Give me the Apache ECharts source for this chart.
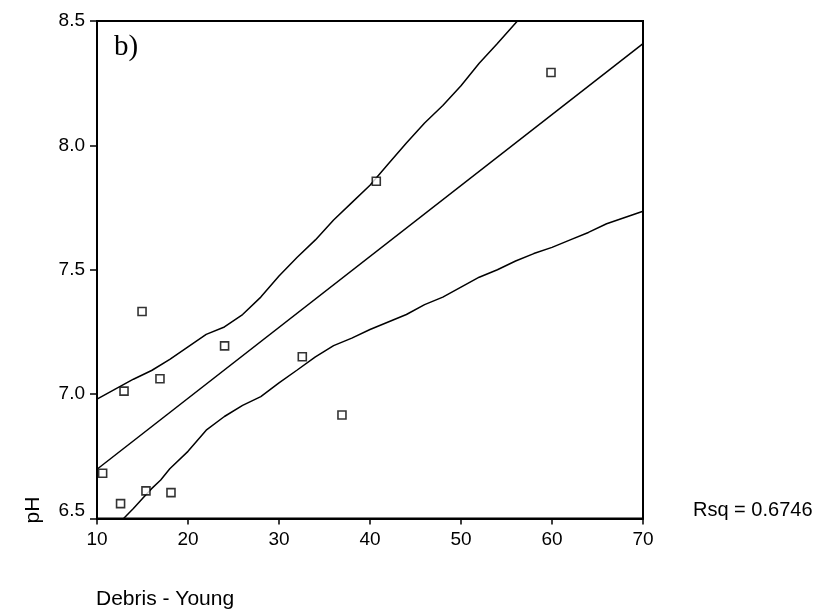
<!DOCTYPE html>
<html>
<head>
<meta charset="utf-8">
<script src="https://cdn.jsdelivr.net/npm/echarts@6/dist/echarts.min.js"></script>
<style>html,body{margin:0;padding:0;background:#fff}#c{width:816px;height:616px}</style>
</head>
<body>
<div id="c"></div>
<script>
// Observed data
var debrisX = [10.62, 12.59, 15.38, 18.13, 12.97, 14.95, 16.92, 24.02, 32.56, 36.92, 40.69, 59.89];
var phY     = [6.682, 6.560, 6.611, 6.604, 7.012, 7.332, 7.062, 7.194, 7.150, 6.916, 7.856, 8.293];
// Fitted line
var fitX = [10, 70];
var fitY = [6.698, 8.409];
// Upper confidence band
var upperX = [10, 12, 14, 16, 18, 20, 22, 24, 26, 28, 30, 32, 34, 36, 38, 40, 42, 44, 46, 48, 50, 52, 54, 56.2];
var upperY = [6.98, 7.02, 7.06, 7.095, 7.14, 7.19, 7.24, 7.27, 7.32, 7.39, 7.475, 7.55, 7.62, 7.70, 7.77, 7.84, 7.925, 8.01, 8.09, 8.16, 8.24, 8.33, 8.41, 8.5];
// Lower confidence band
var lowerX = [12.92, 14, 15, 16, 17, 18, 20, 22, 24, 26, 28, 30, 32, 34, 36, 38, 40, 42, 44, 46, 48, 50, 52, 54, 56, 58, 60, 62, 64, 66, 68, 70];
var lowerY = [6.5, 6.54, 6.58, 6.62, 6.655, 6.70, 6.77, 6.855, 6.91, 6.955, 6.99, 7.045, 7.097, 7.15, 7.195, 7.225, 7.26, 7.29, 7.32, 7.36, 7.39, 7.43, 7.47, 7.50, 7.535, 7.565, 7.59, 7.62, 7.65, 7.685, 7.71, 7.735];
var xTicks = {min: 10, max: 70, interval: 10};
var yTicks = {min: 6.5, max: 8.5, interval: 0.5};
var xTitle = 'Debris - Young';
var yTitle = 'pH';
var rsqText = 'Rsq = 0.6746';
var panelLabel = 'b)';

function zip(a, b) { return a.map(function (v, i) { return [v, b[i]]; }); }

var chart = echarts.init(document.getElementById('c'), null, {renderer: 'canvas'});
var lineStyle = {color: '#000', width: 1.5};
chart.setOption({
  animation: false,
  backgroundColor: '#fff',
  grid: {left: 97, right: 173, top: 21, bottom: 97.5, show: true, borderColor: '#000', borderWidth: 2, backgroundColor: 'transparent'},
  xAxis: {
    type: 'value', min: xTicks.min, max: xTicks.max, interval: xTicks.interval,
    axisLine: {show: true, lineStyle: {color: '#000', width: 2}},
    axisTick: {show: true, length: 6, lineStyle: {color: '#000', width: 1.5}},
    axisLabel: {color: '#000', fontFamily: 'Liberation Sans, Arial', fontSize: 19, margin: 12},
    splitLine: {show: false}
  },
  yAxis: {
    type: 'value', min: yTicks.min, max: yTicks.max, interval: yTicks.interval,
    axisLine: {show: true, lineStyle: {color: '#000', width: 2}},
    axisTick: {show: true, length: 7, lineStyle: {color: '#000', width: 1.5}},
    axisLabel: {color: '#000', fontFamily: 'Liberation Sans, Arial', fontSize: 19, margin: 12,
      formatter: function (v) {
        return v === yTicks.min ? '{low|' + v.toFixed(1) + '}' : v.toFixed(1);
      },
      rich: {low: {color: '#000', fontFamily: 'Liberation Sans, Arial', fontSize: 19, padding: [0, 0, 16, 0]}}
    },
    splitLine: {show: false}
  },
  series: [
    {type: 'line', data: zip(upperX, upperY), symbol: 'none', lineStyle: lineStyle, clip: true, z: 2},
    {type: 'line', data: zip(lowerX, lowerY), symbol: 'none', lineStyle: lineStyle, clip: true, z: 2},
    {type: 'line', data: zip(fitX, fitY), symbol: 'none', lineStyle: lineStyle, clip: true, z: 2},
    {type: 'scatter', data: zip(debrisX, phY), symbol: 'rect', symbolSize: 8,
      itemStyle: {color: '#fff', borderColor: '#000', borderWidth: 1.6}, z: 3}
  ],
  graphic: [
    {type: 'text', left: 114, top: 33, style: {text: panelLabel, font: '29px "Liberation Serif", "Times New Roman", serif', fill: '#000'}},
    {type: 'text', x: 96, y: 599, style: {text: xTitle, font: '21px "Liberation Sans", Arial, sans-serif', fill: '#000', textVerticalAlign: 'middle', textAlign: 'left'}},
    {type: 'text', x: 33, y: 510, rotation: Math.PI / 2, style: {text: yTitle, font: '21px "Liberation Sans", Arial, sans-serif', fill: '#000', textVerticalAlign: 'middle', textAlign: 'center'}},
    {type: 'text', x: 693, y: 510, style: {text: rsqText, font: '20px "Liberation Sans", Arial, sans-serif', fill: '#000', textVerticalAlign: 'middle', textAlign: 'left'}}
  ]
});
</script>
</body>
</html>
